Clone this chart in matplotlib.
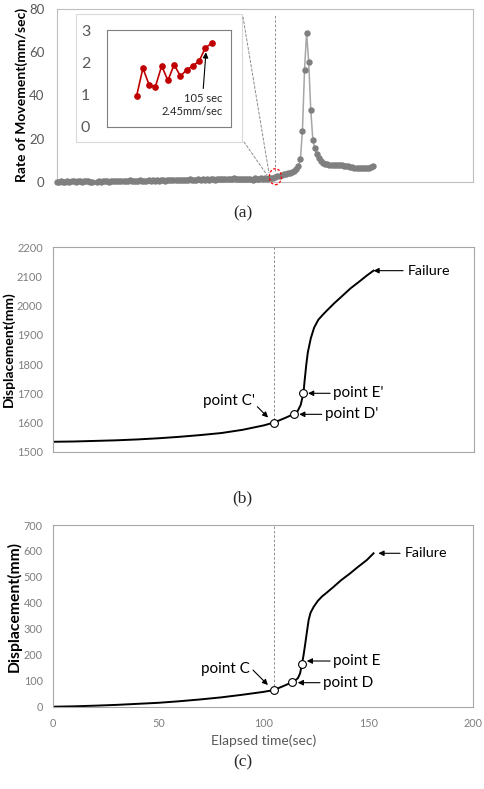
import numpy as np
import matplotlib
matplotlib.use('Agg')
import matplotlib.pyplot as plt
from matplotlib.patches import Rectangle, Ellipse, ConnectionPatch

plt.rcParams['font.family'] = ['Lato', 'DejaVu Sans']

# (a) rate of movement, one reading per second (0 .. 152 sec)
rate_time = np.arange(0, 153)
rate_values = [0.2, 0.1, 0.3, 0.0, 0.2, 0.4, 0.1, 0.3, 0.5, 0.2, 0.3, 0.6, 0.2, 0.4, 0.3, 0.5, 0.2, 0.1,
               np.nan,
               0.1, 0.3, 0.2, 0.5, 0.3, 0.4, 0.2, 0.6, 0.3, 0.5, 0.4, 0.3, 0.6, 0.4, 0.5, 0.3, 0.7, 0.4, 0.5, 0.6, 0.4, 0.7,
               0.5, 0.6, 0.4, 0.8, 0.5, 0.7, 0.6, 0.9, 0.5, 0.7, 0.8, 0.6, 0.9, 0.7, 0.8, 1.0, 0.7, 0.9, 0.8, 1.1,
               0.8, 1.0, 0.9, 1.2, 0.9, 1.1, 1.0, 1.3, 1.0, 1.2,
               1.1, 1.3, 1.0, 1.4, 1.2, 1.1, 1.5, 1.2, 1.3, 1.6, 1.2, 1.4, 1.5, 1.3, 1.7, 1.4, 1.5, 1.3, 1.6, 1.4,
               1.2, 1.5, 1.3,
               0.97, 1.82, 1.30, 1.25, 1.89, 1.44, 1.93, 1.57, 1.77, 1.89, 2.04, 2.45, 2.59,
               2.9, 3.2, 3.5, 3.8, 4.0, 4.2, 4.5, 5.0, 6.0, 7.2, 10.5, 23.6, 51.8,
               69.0, 55.6, 33.3, 19.5, 15.5, 13.0, 11.0, 9.8, 9.0, 8.5, 8.2, 8.0, 8.0, 7.9, 7.8,
               7.8, 8.0, 7.8, 7.6, 7.3, 7.2, 7.0, 6.8, 6.6, 6.5, 6.6, 6.3, 6.4, 6.5, 6.3, 6.5, 6.8, 7.3]
inset_start, inset_end = 94, 107     # zoomed part shown in the inset
mark_time = 105                      # 105 sec, 2.45 mm/sec

# (b) displacement curve (offset)
disp_b_time = [0, 10, 20, 30, 40, 50, 60, 70, 80, 90, 100, 105, 110, 114.4, 116, 117.6, 118.9, 119.5,
               120.3, 121, 122.4, 124, 126, 128, 130, 133.5, 137, 141.4, 145, 149, 152.2]
disp_b_values = [1534, 1535, 1537, 1539, 1542, 1546, 1551, 1557, 1564, 1575, 1590, 1600, 1615, 1629, 1637,
                 1660, 1700, 1745, 1800, 1840, 1888, 1925, 1952, 1968, 1983, 2008, 2031, 2060, 2080, 2103, 2120]
points_b = [105, 114.4, 118.9]
labels_b = ["point C'", "point D'", "point E'"]

# (c) displacement curve
disp_c_time = [0, 10, 20, 30, 40, 50, 60, 70, 80, 90, 100, 105, 110, 113.6, 115, 116.5, 117.5, 118.4, 119.2,
               120, 120.8, 121.6, 122.5, 124, 126, 128, 130, 133.5, 137, 141.4, 145, 149.3, 152.5]
disp_c_values = [0, 1.5, 4, 7, 11, 15, 21, 28, 36, 46, 57, 64, 81, 94, 100, 110, 128, 164.5, 200,
                 244, 290, 334, 362, 385, 408, 425, 438, 462, 487, 514, 538, 565, 591]
points_c = [105, 113.6, 118.4]
labels_c = ["point C", "point D", "point E"]

W, H = 485, 789


def fig_box(x0, y0, x1, y1):
	"""pixel box (top-left origin) -> figure fraction rect"""
	return [x0 / W, 1 - y1 / H, (x1 - x0) / W, (y1 - y0) / H]


def arrow(ax, tail, tip):
	ax.annotate('', xy=tip, xytext=tail,
	            arrowprops=dict(arrowstyle='-|>', color='black', lw=0.8,
	                            mutation_scale=8, shrinkA=0, shrinkB=0))


def style_axes(ax, edge, tick_color, tick_size, pad):
	for s in ax.spines.values():
		s.set_color(edge)
		s.set_linewidth(0.8)
	ax.tick_params(length=0, labelcolor=tick_color, labelsize=tick_size, pad=pad)


fig = plt.figure(figsize=(W / 100, H / 100), dpi=100)

###############################################################################
##------------------------------ Panel (a) ----------------------------------##
###############################################################################
ax_a = fig.add_axes(fig_box(57, 9, 473, 182))
ax_a.plot(rate_time, rate_values, color='#a6a6a6', lw=1.1, zorder=2, clip_on=False)
ax_a.plot(rate_time, rate_values, 'o', color='#7f7f7f', ms=3.6, zorder=3, clip_on=False)
ax_a.set_xlim(0, 200)
ax_a.set_ylim(0, 80)
ax_a.set_yticks(range(0, 81, 20))
ax_a.set_xticks([])
style_axes(ax_a, '#bfbfbf', '#595959', 9.5, 9)

mark_val = rate_values[mark_time]
ax_a.add_patch(Ellipse((mark_time, mark_val), width=5.8, height=7.4, fill=False,
                       ec='red', ls=(0, (2, 1.5)), lw=0.9, zorder=4, clip_on=False))
ax_a.plot([mark_time, mark_time], [5, 77.5], ls=(0, (2.5, 2)), color='#8c8c8c', lw=0.7)

# white box behind the inset
fig.add_artist(Rectangle((75.7 / W, 1 - 142 / H), 166.3 / W, 128 / H, transform=fig.transFigure,
                         fc='white', ec='#d9d9d9', lw=0.8, zorder=2))
for corner, target in [((243 / W, 1 - 17 / H), (101.9, 4.2)), ((244 / W, 1 - 142 / H), (101.0, 3.2))]:
	con = ConnectionPatch(xyA=corner, coordsA='figure fraction', xyB=target, coordsB=ax_a.transData,
	                      ls=(0, (2.5, 2)), color='#8c8c8c', lw=0.7, zorder=2.5)
	fig.add_artist(con)

ax_in = fig.add_axes(fig_box(107, 30, 231, 127), zorder=3)
ax_in.plot(rate_time[inset_start:inset_end], rate_values[inset_start:inset_end], '-o',
           color='#c00000', lw=1.2, ms=3.8)
ax_in.set_xlim(89.25, 109.1)
ax_in.set_ylim(0, 3)
ax_in.set_yticks([0, 1, 2, 3])
ax_in.set_xticks([])
style_axes(ax_in, '#7f7f7f', '#595959', 11.5, 12)
arrow(ax_in, (104.66, 1.19), (105.09, 2.31))
ax_in.text(107.76, 0.68, '105 sec\n2.45mm/sec', ha='right', va='center', fontsize=8,
           linespacing=1.25, color='#262626')

fig.text(22 / W, 1 - 94.5 / H, 'Rate of Movement(mm/sec)', rotation=90, ha='center', va='center',
         fontsize=10, fontweight='bold')
fig.text(0.5, 1 - 213 / H, '(a)', ha='center', va='center', fontsize=12.5, family='Liberation Serif',
         color='#262626')

###############################################################################
##------------------------------ Panel (b) ----------------------------------##
###############################################################################
ax_b = fig.add_axes(fig_box(53.3, 247.3, 474, 451.7))
ax_b.plot(disp_b_time, disp_b_values, color='black', lw=1.4)
idx_b = [disp_b_time.index(t) for t in points_b]
ax_b.plot([disp_b_time[i] for i in idx_b], [disp_b_values[i] for i in idx_b], 'o',
          mfc='white', mec='black', mew=0.8, ms=5.6, zorder=4)
ax_b.plot([points_b[0], points_b[0]], [disp_b_values[idx_b[0]] + 8, 2200], ls=(0, (2.5, 2)),
          color='#8c8c8c', lw=0.7)
ax_b.set_xlim(0, 200)
ax_b.set_ylim(1500, 2200)
ax_b.set_yticks(range(1500, 2201, 100))
ax_b.set_xticks([])
style_axes(ax_b, '#a6a6a6', '#7f7f7f', 8.0, 7.5)

ax_b.text(95.9, 1673.6, labels_b[0], ha='right', va='center', fontsize=11)
arrow(ax_b, (97.0, 1654), (102.1, 1617))
ax_b.text(129.2, 1628, labels_b[1], ha='left', va='center', fontsize=11)
arrow(ax_b, (127.6, 1628), (116.9, 1628))
ax_b.text(133.0, 1700, labels_b[2], ha='left', va='center', fontsize=11)
arrow(ax_b, (131.6, 1700), (121.1, 1700))
ax_b.text(168.7, disp_b_values[-1], 'Failure', ha='left', va='center', fontsize=10.3)
arrow(ax_b, (166.3, disp_b_values[-1]), (disp_b_time[-1], disp_b_values[-1]))

fig.text(9 / W, 1 - 349.2 / H, 'Displacement(mm)', rotation=90, ha='center', va='center',
         fontsize=10, fontweight='bold')
fig.text(0.5, 1 - 498 / H, '(b)', ha='center', va='center', fontsize=12.5, family='Liberation Serif',
         color='#262626')

###############################################################################
##------------------------------ Panel (c) ----------------------------------##
###############################################################################
ax_c = fig.add_axes(fig_box(53.3, 525, 473.3, 706.7))
ax_c.plot(disp_c_time, disp_c_values, color='black', lw=1.4)
idx_c = [disp_c_time.index(t) for t in points_c]
ax_c.plot([disp_c_time[i] for i in idx_c], [disp_c_values[i] for i in idx_c], 'o',
          mfc='white', mec='black', mew=0.8, ms=5.6, zorder=4)
ax_c.plot([points_c[0], points_c[0]], [disp_c_values[idx_c[0]] + 14, 700], ls=(0, (2.5, 2)),
          color='#8c8c8c', lw=0.7)
ax_c.set_xlim(0, 200)
ax_c.set_ylim(0, 700)
ax_c.set_yticks(range(0, 701, 100))
ax_c.set_xticks(range(0, 201, 50))
style_axes(ax_c, '#a6a6a6', '#7f7f7f', 7.8, 7.5)
ax_c.tick_params(axis='x', pad=8)
ax_c.set_xlabel('Elapsed time(sec)', fontsize=10, color='#595959', labelpad=4)

ax_c.text(93.7, 144, labels_c[0], ha='right', va='center', fontsize=11)
arrow(ax_c, (95.1, 141), (102.2, 83.6))
ax_c.text(128.4, 92.5, labels_c[1], ha='left', va='center', fontsize=11)
arrow(ax_c, (127.0, 92.5), (116.4, 92.5))
ax_c.text(133.2, 176, labels_c[2], ha='left', va='center', fontsize=11)
arrow(ax_c, (131.8, 176), (120.7, 176))
ax_c.text(167.5, disp_c_values[-1], 'Failure', ha='left', va='center', fontsize=10.3)
arrow(ax_c, (165.1, disp_c_values[-1]), (154.8, disp_c_values[-1]))

fig.text(13.8 / W, 1 - 606.7 / H, 'Displacement(mm)', rotation=90, ha='center', va='center',
         fontsize=11.3, fontweight='bold')
fig.text(0.5, 1 - 762 / H, '(c)', ha='center', va='center', fontsize=12.5, family='Liberation Serif',
         color='#262626')

fig.savefig('out.png', dpi=100)
